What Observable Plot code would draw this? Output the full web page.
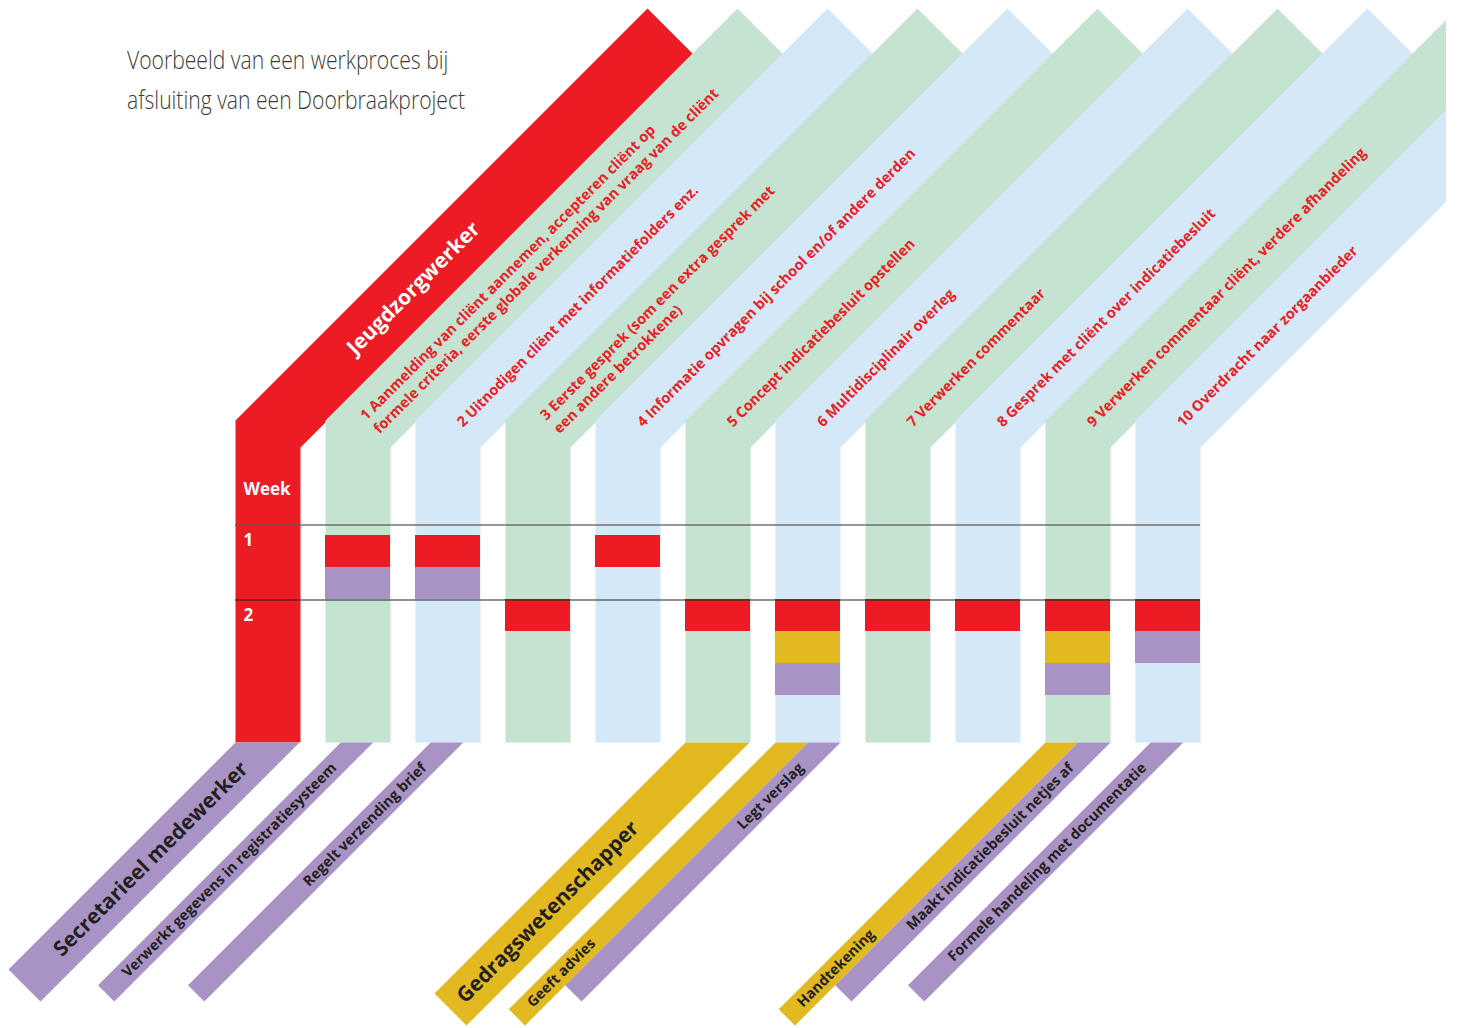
<!DOCTYPE html>
<html>
<head>
<meta charset="utf-8">
<script src="https://cdn.jsdelivr.net/npm/d3@7"></script>
<script src="https://cdn.jsdelivr.net/npm/@observablehq/plot@0.6"></script>
<style>
  html, body { margin: 0; padding: 0; background: #ffffff; }
  #wrap { position: relative; width: 1458px; height: 1028px; overflow: hidden; background: #fff; }
  #chart { position: absolute; left: 0; top: 0; }
  #title { position: absolute; left: 127px; top: 39px; font-family: "Open Sans", sans-serif; font-weight: 300;
           font-size: 26px; line-height: 40px; color: #3a3a3a; white-space: nowrap; transform-origin: 0 0; }
  #title span { display: inline-block; }
</style>
</head>
<body>
<div id="wrap"><div id="chart"></div><div id="title"></div></div>
<script>
// ---------------- DATA ----------------
const titleLines = ["Voorbeeld van een werkproces bij", "afsluiting van een Doorbraakproject"];

const roles = ["Jeugdzorgwerker", "Secretarieel medewerker", "Gedragswetenschapper"];

const steps = [
  "1 Aanmelding van cliënt aannemen, accepteren cliënt op\nformele criteria, eerste globale verkenning van vraag van de cliënt",
  "2 Uitnodigen cliënt met informatiefolders enz.",
  "3 Eerste gesprek (som een extra gesprek met\neen andere betrokkene)",
  "4 Informatie opvragen bij school en/of andere derden",
  "5 Concept indicatiebesluit opstellen",
  "6 Multidisciplinair overleg",
  "7 Verwerken commentaar",
  "8 Gesprek met cliënt over indicatiebesluit",
  "9 Verwerken commentaar cliënt, verdere afhandeling",
  "10 Overdracht naar zorgaanbieder"
];

const weekHeader = "Week";
const weeks = ["1", "2"];

// which role works on which step, in which week, in which order within the week
const cells = [
  {step: 1,  week: 1, order: 0, role: "Jeugdzorgwerker"},
  {step: 1,  week: 1, order: 1, role: "Secretarieel medewerker"},
  {step: 2,  week: 1, order: 0, role: "Jeugdzorgwerker"},
  {step: 2,  week: 1, order: 1, role: "Secretarieel medewerker"},
  {step: 3,  week: 2, order: 0, role: "Jeugdzorgwerker"},
  {step: 4,  week: 1, order: 0, role: "Jeugdzorgwerker"},
  {step: 5,  week: 2, order: 0, role: "Jeugdzorgwerker"},
  {step: 6,  week: 2, order: 0, role: "Jeugdzorgwerker"},
  {step: 6,  week: 2, order: 1, role: "Gedragswetenschapper"},
  {step: 6,  week: 2, order: 2, role: "Secretarieel medewerker"},
  {step: 7,  week: 2, order: 0, role: "Jeugdzorgwerker"},
  {step: 8,  week: 2, order: 0, role: "Jeugdzorgwerker"},
  {step: 9,  week: 2, order: 0, role: "Jeugdzorgwerker"},
  {step: 9,  week: 2, order: 1, role: "Gedragswetenschapper"},
  {step: 9,  week: 2, order: 2, role: "Secretarieel medewerker"},
  {step: 10, week: 2, order: 0, role: "Jeugdzorgwerker"},
  {step: 10, week: 2, order: 1, role: "Secretarieel medewerker"}
];

// ribbons leaving the bottom of the columns (column 0 = role column)
const tasks = [
  {col: 0,  role: "Secretarieel medewerker", label: "Secretarieel medewerker", header: true,  lane: 0, lanes: 1},
  {col: 1,  role: "Secretarieel medewerker", label: "Verwerkt gegevens in registratiesysteem", header: false, lane: 0, lanes: 1},
  {col: 2,  role: "Secretarieel medewerker", label: "Regelt verzending brief", header: false, lane: 0, lanes: 1},
  {col: 5,  role: "Gedragswetenschapper",    label: "Gedragswetenschapper", header: true,  lane: 0, lanes: 1},
  {col: 6,  role: "Gedragswetenschapper",    label: "Geeft advies", header: false, lane: 0, lanes: 2},
  {col: 6,  role: "Secretarieel medewerker", label: "Legt verslag", header: false, lane: 1, lanes: 2},
  {col: 9,  role: "Gedragswetenschapper",    label: "Handtekening", header: false, lane: 0, lanes: 2},
  {col: 9,  role: "Secretarieel medewerker", label: "Maakt indicatiebesluit netjes af", header: false, lane: 1, lanes: 2},
  {col: 10, role: "Secretarieel medewerker", label: "Formele handeling met documentatie", header: false, lane: 0, lanes: 1}
];

// ---------------- STYLE / LAYOUT ----------------
const C = {
  red: "#ED1C24", green: "#C5E3D1", blue: "#D4E8F8", purple: "#A993C4", yellow: "#E2B920", ink: "#231F20"
};
const roleColor = {"Jeugdzorgwerker": C.red, "Secretarieel medewerker": C.purple, "Gedragswetenschapper": C.yellow};
const FONT = "Open Sans, Noto Sans, sans-serif";

const W = 1458, H = 1028;
const L = {
  x0: 235, dx: 90, cw: 65,           // columns
  miterY: 420, miterRise: 27,        // bend of the upper ribbons
  tipY: 8,                           // top of upper ribbons
  bottom: 742,                       // bottom of columns
  headBottom: 524, weekH: 75,        // week grid
  slot0: 535, slotH: 32, slotsPerWeek: 2,
  clipX: 1446,
  taskW: 32.5
};
const colX = i => L.x0 + i * L.dx;
const S2 = Math.SQRT1_2;

function upperBand(i) {
  const a = colX(i), b = a + L.cw;
  const tip = [a + (L.miterY - L.tipY), L.tipY];
  const s = b + L.miterY + L.miterRise;
  const d = tip[0] - tip[1];
  const rc = [(s + d) / 2, (s - d) / 2];
  return [[a, L.bottom], [a, L.miterY], tip, rc, [b, L.miterY + L.miterRise], [b, L.bottom]];
}
function taskSpan(t) {
  const a = colX(t.col);
  if (t.header) return [a, a + L.cw - 1];
  if (t.lanes === 1) { const c = a + L.cw / 2 - 1; return [c - L.taskW / 2, c + L.taskW / 2]; }
  return [a + t.lane * L.taskW, a + (t.lane + 1) * L.taskW];
}
const isYellow = t => t.role === "Gedragswetenschapper";
const taskEnd = t => isYellow(t) ? 1025 : 1001;
function lowerBand(t) {
  const [xa, xb] = taskSpan(t), yEnd = taskEnd(t), w = xb - xa;
  const R = [xb - (yEnd - L.bottom), yEnd];
  const Lc = [R[0] - w / 2, yEnd - w / 2];
  return [[xa, L.bottom], [xb, L.bottom], R, Lc];
}

// ---------------- MARKS ----------------
const marks = [];

// upper ribbons: role column + one per step
[roles[0], ...steps].forEach((s, i) => {
  const fill = i === 0 ? roleColor[roles[0]] : (i % 2 ? C.green : C.blue);
  marks.push(Plot.line(upperBand(i), {x: d => d[0], y: d => d[1], fill, stroke: "none", clip: true}));
});

// lower ribbons
tasks.forEach(t => {
  marks.push(Plot.line(lowerBand(t), {x: d => d[0], y: d => d[1], fill: roleColor[t.role], stroke: "none", clip: true}));
});

// cells
const slotY = d => L.slot0 + ((d.week - 1) * L.slotsPerWeek + d.order) * L.slotH;
marks.push(Plot.rect(cells, {
  x1: d => colX(d.step), x2: d => colX(d.step) + L.cw,
  y1: slotY, y2: d => slotY(d) + L.slotH,
  fill: d => roleColor[d.role]
}));

// week lines
const weekTop = i => L.headBottom + i * L.weekH;
marks.push(Plot.ruleY([weeks[0]], {y: () => weekTop(0) + 0.5, x1: colX(0), x2: colX(steps.length) + L.cw, stroke: "#5a5a5a", strokeOpacity: 0.85, strokeWidth: 1.6}));
marks.push(Plot.ruleY([weeks[1]], {y: () => weekTop(1) + 0.5, x1: colX(0), x2: colX(steps.length) + L.cw, stroke: "#222", strokeWidth: 1.2}));

// week labels
marks.push(Plot.text([weekHeader], {x: colX(0) + 8, y: L.headBottom - 35, text: d => d, textAnchor: "start", fill: "white", fontSize: 17, fontWeight: 700, fontFamily: FONT}));
marks.push(Plot.text(weeks, {x: colX(0) + 8, y: (d, i) => weekTop(i) + 16, text: d => d, textAnchor: "start", fill: "white", fontSize: 17, fontWeight: 700, fontFamily: FONT}));

// labels on upper ribbons
const upperAnchor = (i, t) => [colX(i) + L.cw / 2 + t * S2, L.miterY + L.miterRise / 2 - t * S2];
marks.push(Plot.text([roles[0]], {
  x: () => upperAnchor(0, 117)[0], y: () => upperAnchor(0, 117)[1], text: d => d,
  rotate: -45, textAnchor: "start", lineAnchor: "middle", fill: "white", fontSize: 21, fontWeight: 700, fontFamily: FONT
}));
marks.push(Plot.text(steps, {
  x: (d, i) => upperAnchor(i + 1, 15)[0], y: (d, i) => upperAnchor(i + 1, 15)[1], text: d => d,
  rotate: -45, textAnchor: "start", lineAnchor: "middle", lineHeight: 1.3,
  fill: C.red, fontSize: 14.5, fontWeight: 700, fontFamily: FONT
}));

// labels on lower ribbons
function lowerAnchor(t) {
  const [xa, xb] = taskSpan(t), cx = (xa + xb) / 2;
  if (isYellow(t)) {
    const poly = lowerBand(t);
    const mx = (poly[2][0] + poly[3][0]) / 2, my = (poly[2][1] + poly[3][1]) / 2;
    const s = t.header ? 14 : 18;
    return [mx + s * S2, my - s * S2];
  }
  const dy = 23;
  return [cx - dy, L.bottom + dy];
}
const yellowTasks = tasks.filter(isYellow);
const purpleTasks = tasks.filter(t => !isYellow(t));
marks.push(Plot.text(purpleTasks, {
  x: d => lowerAnchor(d)[0], y: d => lowerAnchor(d)[1], text: d => d.label,
  rotate: -45, lineAnchor: "middle", textAnchor: "end",
  fill: C.ink, fontSize: d => d.header ? 21 : 14.5, fontWeight: 700, fontFamily: FONT
}));
marks.push(Plot.text(yellowTasks, {
  x: d => lowerAnchor(d)[0], y: d => lowerAnchor(d)[1], text: d => d.label,
  rotate: -45, lineAnchor: "middle", textAnchor: "start",
  fill: C.ink, fontSize: d => d.header ? 21 : 14.5, fontWeight: 700, fontFamily: FONT
}));

const chart = Plot.plot({
  width: W, height: H,
  marginTop: 0, marginLeft: 0, marginBottom: 0, marginRight: W - L.clipX,
  x: {domain: [0, L.clipX], range: [0, L.clipX], axis: null},
  y: {domain: [0, H], range: [0, H], axis: null},
  style: {background: "white", overflow: "visible"},
  marks
});
document.getElementById("chart").appendChild(chart);

// title
const title = document.getElementById("title");
title.innerHTML = titleLines.map(s => `<span>${s}</span>`).join("<br>");
const w1 = title.children[2] ? title.children[2].getBoundingClientRect().width : title.lastElementChild.getBoundingClientRect().width;
const targetW = 338;
if (w1 > 0) title.style.transform = `scaleX(${targetW / w1})`;
</script>
</body>
</html>
